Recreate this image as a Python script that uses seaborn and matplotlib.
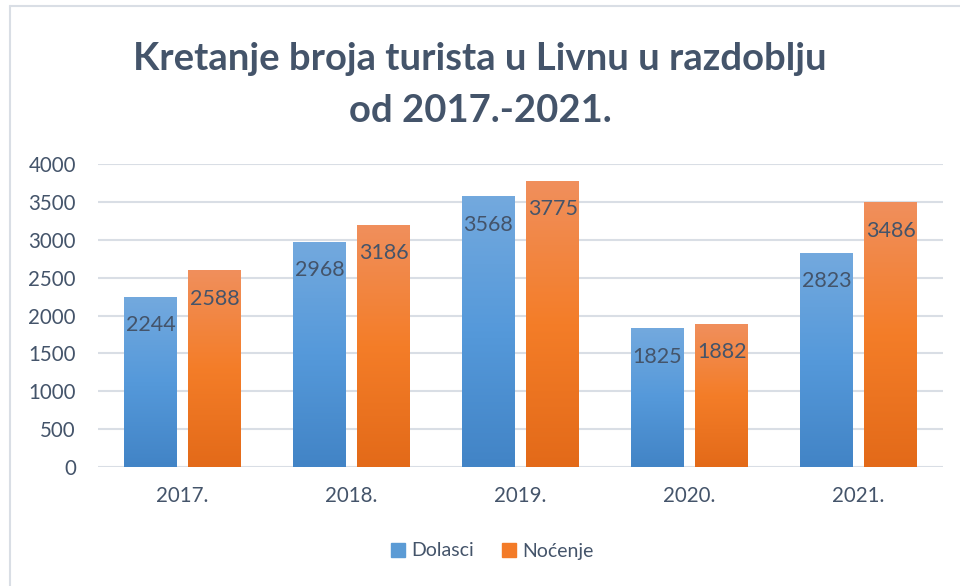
import numpy as np
import matplotlib.pyplot as plt
import seaborn as sns
import pandas as pd
from matplotlib.colors import LinearSegmentedColormap
from matplotlib.lines import Line2D

years = ["2017.", "2018.", "2019.", "2020.", "2021."]
dolasci = [2244, 2968, 3568, 1825, 2823]
nocenje = [2588, 3186, 3775, 1882, 3486]
series_names = ["Dolasci", "Noćenje"]

title = "Kretanje broja turista u Livnu u razdoblju\nod 2017.-2021."

text_color = "#44546A"
grid_color = "#D9DEE5"
base_colors = ["#5B9BD5", "#F37B28"]
gradients = [
    ["#73A9DE", "#5599DA", "#4284C6"],
    ["#F08F5C", "#F47D28", "#E36A19"],
]


def main():
    df = pd.DataFrame({
        "year": years * 2,
        "serie": [series_names[0]] * len(years) + [series_names[1]] * len(years),
        "value": dolasci + nocenje,
    })

    sns.set_style("white")
    plt.rcParams["font.family"] = ["Lato", "DejaVu Sans"]

    fig = plt.figure(figsize=(9.6, 5.86), dpi=100)
    ax = fig.add_axes([98 / 960, 119 / 586, 845 / 960, 303 / 586])

    sns.barplot(data=df, x="year", y="value", hue="serie", palette=base_colors,
                width=0.76, gap=0.18, ax=ax, legend=False, zorder=3)

    ax.set_ylim(0, 4000)
    ax.set_xlim(-0.5, len(years) - 0.5)
    ax.set_yticks(range(0, 4001, 500))
    ax.yaxis.grid(True, color=grid_color, linewidth=1.5, zorder=0)
    ax.set_axisbelow(True)
    for s in ax.spines.values():
        s.set_visible(False)
    ax.tick_params(axis="both", length=0, labelsize=14.8, labelcolor=text_color)
    ax.tick_params(axis="y", pad=16)
    ax.tick_params(axis="x", pad=14)
    ax.set_xlabel("")
    ax.set_ylabel("")

    # gradient fill of bars, light at top and darker at the bottom
    for i, cont in enumerate(ax.containers):
        cmap = LinearSegmentedColormap.from_list("g%d" % i, gradients[i])
        grad = np.linspace(0, 1, 200).reshape(-1, 1)
        for bar in cont:
            x0, y0 = bar.get_x(), bar.get_y()
            w, h = bar.get_width(), bar.get_height()
            ax.imshow(grad, cmap=cmap, extent=(x0, x0 + w, y0, y0 + h),
                      origin="upper", aspect="auto", zorder=3)
            bar.set_alpha(0)
        for bar, val in zip(cont, [dolasci, nocenje][i]):
            ax.annotate(str(val), (bar.get_x() + bar.get_width() / 2, bar.get_height()),
                        xytext=(0, -20), textcoords="offset points",
                        ha="center", va="center", fontsize=15.5, color=text_color, zorder=5)

    ax.set_ylim(0, 4000)
    ax.set_xlim(-0.5, len(years) - 0.5)

    handles = [Line2D([], [], marker="s", linestyle="", markersize=10,
                      markerfacecolor=c, markeredgecolor=c) for c in base_colors]
    fig.legend(handles, series_names, loc="center", bbox_to_anchor=(492 / 960, 1 - 551 / 586),
               ncol=2, frameon=False, fontsize=14, labelcolor=text_color,
               handletextpad=0.3, columnspacing=1.4, handlelength=0.8)

    fig.text(0.5, 1 - 85 / 586, title, ha="center", va="center", fontsize=27.5,
             fontweight="bold", color=text_color, linespacing=1.65)

    # light frame of the chart area
    fig.add_artist(Line2D([10 / 960, 10 / 960], [0, 1 - 6 / 586], color=grid_color, linewidth=1.5))
    fig.add_artist(Line2D([10 / 960, 1], [1 - 6 / 586, 1 - 6 / 586], color=grid_color, linewidth=1.5))

    fig.savefig("out.png", dpi=100)


if __name__ == "__main__":
    main()
